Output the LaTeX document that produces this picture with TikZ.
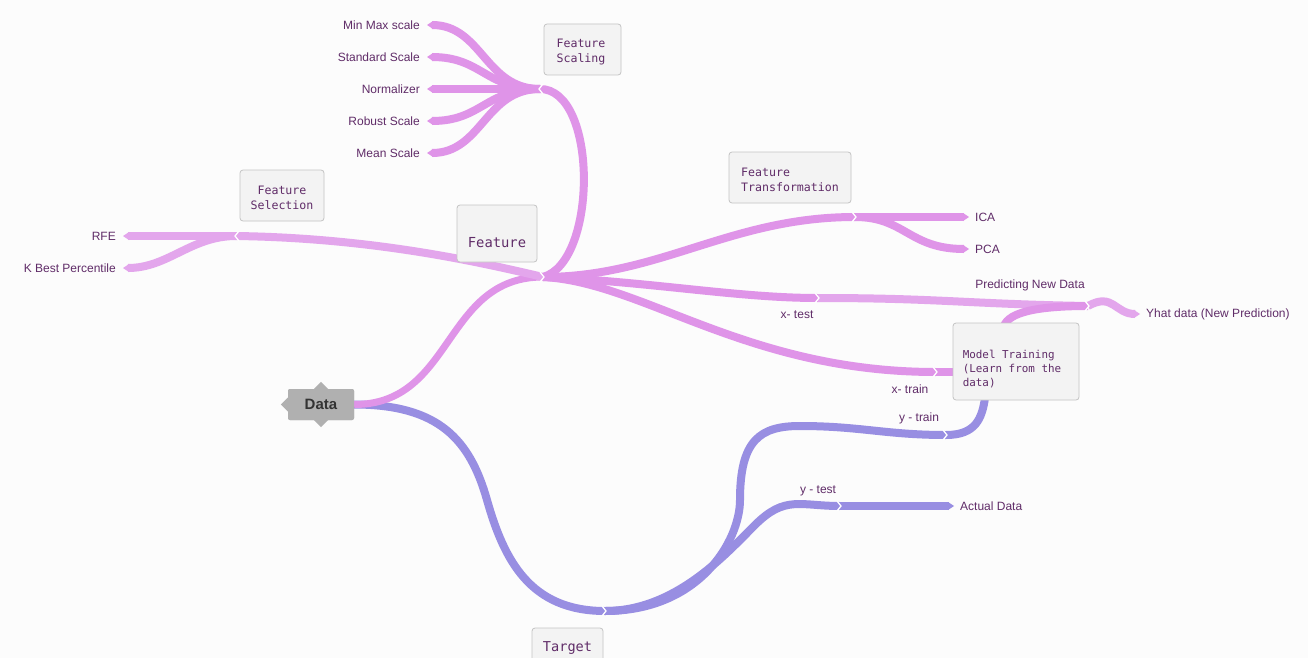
\documentclass[tikz,border=0pt]{standalone}
\usepackage{fontspec}
\setmainfont{Liberation Sans}
\newfontfamily\monof{DejaVu Sans Mono}
\definecolor{pinkA}{RGB}{223,148,232}
\definecolor{pinkB}{RGB}{227,166,236}
\definecolor{purp}{RGB}{152,142,226}
\definecolor{txt}{RGB}{96,44,104}
\definecolor{boxfill}{RGB}{243,243,243}
\definecolor{boxline}{RGB}{196,196,196}
\definecolor{datagray}{RGB}{176,176,176}
\newcommand\leaftipL[2]{\fill[#1] (#2) -- ++(6,-4) -- ++(0,8) -- cycle;}
\newcommand\leaftipR[2]{\fill[#1] (#2) -- ++(-6,-4) -- ++(0,8) -- cycle;}
\newcommand\chevR[1]{\draw[chevst] (#1) ++(-3,-5) -- ++(4,5) -- ++(-4,5);}
\newcommand\chevL[1]{\draw[chevst] (#1) ++(3,-5) -- ++(-4,5) -- ++(4,5);}
\begin{document}
\begin{tikzpicture}[x=1pt,y=-1pt,
  brP/.style={line width=8pt,draw=pinkA},
  brB/.style={line width=8pt,draw=pinkB},
  brU/.style={line width=8pt,draw=purp},
  chevst/.style={draw=white,line width=1.3pt},
  mbox/.style={draw=boxline,fill=boxfill,rounded corners=3pt,line width=0.8pt},
  mtext/.style={font=\monof\fontsize{11.6}{15}\selectfont,text=txt,inner sep=0pt},
  lbl/.style={font=\fontsize{12}{14}\selectfont,text=txt,inner sep=0pt},
  datanode/.style={fill=datagray,rounded corners=2pt,minimum width=66pt,minimum height=31pt,inner sep=0pt,
    font=\bfseries\fontsize{15}{18}\selectfont,text=black!80}]
\useasboundingbox (0,0) rectangle (1308,658);
\fill[white!99!black] (0,0) rectangle (1308,658);

% junction coordinates
\coordinate (fhub) at (543,277);
\coordinate (fsc) at (540,89);
\coordinate (fsel) at (236,236);
\coordinate (ftr) at (855,217);
\coordinate (xtest) at (818,298);
\coordinate (xtrain) at (936,372);
\coordinate (ytrain) at (946,435);
\coordinate (ytest) at (840,506);
\coordinate (thub) at (605,611);
\coordinate (pred) at (1088,306);
\coordinate (mtL) at (956,372);
\coordinate (mtT) at (1004,326);
\coordinate (mtB) at (985,398);
% leaf tips
\coordinate (tMM) at (427,25);
\coordinate (tSS) at (427,57);
\coordinate (tNo) at (427,89);
\coordinate (tRo) at (427,121);
\coordinate (tMe) at (427,153);
\coordinate (tRFE) at (123,236);
\coordinate (tKB) at (123,268);
\coordinate (tICA) at (969,217);
\coordinate (tPCA) at (969,249);
\coordinate (tYhat) at (1140,314);
\coordinate (tAct) at (954,506);

\node[datanode] (data) at (321,404.5) {};

% purple branches
\draw[brU] (data.east) .. controls +(85,0) and +(-17,-60) .. (487,500) .. controls +(17,60) and +(-75,0) .. (thub);
\draw[brU] (thub) .. controls +(95,0) and +(0,40) .. (740,500) .. controls +(0,-60) and +(-40,0) .. (800,426) .. controls +(60,0) and +(-60,0) .. (ytrain);
\draw[brU] (ytrain) .. controls +(30,0) and +(-3,20) .. (mtB);
\draw[brU] (thub) .. controls +(70,0) and +(-30,30) .. (755,525) .. controls +(30,-30) and +(-40,0) .. (ytest);
\draw[brU,shorten >=5pt] (ytest) -- (tAct);
\leaftipR{purp}{tAct}

% pink branches
\draw[brP,line width=7pt] (data.east) .. controls +(100,0) and +(-100,0) .. (fhub);
\draw[brB] (fhub) .. controls +(-60,-14) and +(140,2) .. (fsel);
\draw[brB,shorten >=5pt] (fsel) -- (tRFE);
\draw[brB,shorten >=5pt] (fsel) .. controls +(-45,0) and +(45,0) .. (tKB);
\leaftipL{pinkB}{tRFE}
\leaftipL{pinkB}{tKB}

\draw[brP] (fhub) .. controls +(55,-15) and +(58,0) .. (fsc);
\draw[brP,shorten >=5pt] (fsc) .. controls +(-55,0) and +(55,0) .. (tMM);
\draw[brP,shorten >=5pt] (fsc) .. controls +(-55,0) and +(55,0) .. (tSS);
\draw[brP,shorten >=5pt] (fsc) -- (tNo);
\draw[brP,shorten >=5pt] (fsc) .. controls +(-55,0) and +(55,0) .. (tRo);
\draw[brP,shorten >=5pt] (fsc) .. controls +(-55,0) and +(55,0) .. (tMe);
\foreach \t in {tMM,tSS,tNo,tRo,tMe} {\leaftipL{pinkA}{\t}}

\draw[brP] (fhub) .. controls +(117,0) and +(-125,0) .. (ftr);
\draw[brP,shorten >=5pt] (ftr) -- (tICA);
\draw[brP,shorten >=5pt] (ftr) .. controls +(50,0) and +(-60,0) .. (tPCA);
\leaftipR{pinkA}{tICA}
\leaftipR{pinkA}{tPCA}

\draw[brP] (fhub) .. controls +(110,5) and +(-80,0) .. (xtest);
\draw[brB] (xtest) .. controls +(120,0) and +(-120,-2) .. (pred);
\draw[brP] (fhub) .. controls +(100,5) and +(-190,0) .. (xtrain);
\draw[brP] (xtrain) -- (mtL);
\draw[brP] (mtT) .. controls +(5,-14) and +(-50,0) .. (pred);
\draw[brB,shorten >=5pt] (pred) .. controls +(25,-14) and +(-25,0) .. (tYhat);
\leaftipR{pinkB}{tYhat}

% chevrons
\chevR{fhub}
\chevL{fsc}
\chevL{fsel}
\chevR{ftr}
\chevR{xtest}
\chevR{xtrain}
\chevR{ytrain}
\chevR{ytest}
\chevR{thub}
\chevR{pred}

% Data node decorations
\fill[datagray] (data.north) ++(-7,0) -- ++(7,-7) -- ++(7,7) -- cycle;
\fill[datagray] (data.south) ++(-7,0) -- ++(7,7) -- ++(7,-7) -- cycle;
\fill[datagray] (data.west) ++(0,-7) -- ++(-7,7) -- ++(7,7) -- cycle;
\node[datanode] (datalbl) at (321,404.5) {Data};

% boxes
\node[mbox,minimum width=77pt,minimum height=51pt] (fscbox) at (582.5,49.5) {};
\node[mtext,align=left] (fsctxt) at (581,52) {Feature\\Scaling};
\node[mbox,minimum width=84pt,minimum height=51pt] (fselbox) at (282,195.5) {};
\node[mtext,align=center] (fseltxt) at (282,197.5) {Feature\\Selection};
\node[mbox,minimum width=80pt,minimum height=57pt] (featbox) at (497,233.5) {};
\node[mtext,font=\monof\fontsize{13.8}{16}\selectfont] (feattxt) at (497,243) {Feature};
\node[mbox,minimum width=122pt,minimum height=51pt] (ftrbox) at (790,177.5) {};
\node[mtext,align=left] (ftrtxt) at (790,179.5) {Feature\\Transformation};
\node[mbox,minimum width=126pt,minimum height=77pt] (mtbox) at (1016,361.5) {};
\node[mtext,align=left,font=\monof\fontsize{10.9}{14}\selectfont] (mttxt) at (1012,369.5) {Model Training\\(Learn from the\\data)};
\node[mbox,minimum width=71pt,minimum height=44pt] (tgtbox) at (567.5,650) {};
\node[mtext,font=\monof\fontsize{13.6}{16}\selectfont] (tgttxt) at (567.5,648) {Target};

% labels
\node[lbl,anchor=east] (lMM) at (420,25) {Min Max scale};
\node[lbl,anchor=east] (lSS) at (420,57) {Standard Scale};
\node[lbl,anchor=east] (lNo) at (420,89) {Normalizer};
\node[lbl,anchor=east] (lRo) at (420,121) {Robust Scale};
\node[lbl,anchor=east] (lMe) at (420,153) {Mean Scale};
\node[lbl,anchor=east] (lRFE) at (116,236) {RFE};
\node[lbl,anchor=east] (lKB) at (116,268) {K Best Percentile};
\node[lbl,anchor=west] (lICA) at (975,217) {ICA};
\node[lbl,anchor=west] (lPCA) at (975,249) {PCA};
\node[lbl] (lPred) at (1030,285) {Predicting New Data};
\node[lbl,anchor=west] (lYhat) at (1146,314) {Yhat data (New Prediction)};
\node[lbl] (lxtest) at (797,315) {x- test};
\node[lbl] (lxtrain) at (910,389) {x- train};
\node[lbl] (lytrain) at (919,418) {y - train};
\node[lbl] (lytest) at (818,491) {y - test};
\node[lbl,anchor=west] (lAct) at (960,506) {Actual Data};
\end{tikzpicture}
\end{document}
